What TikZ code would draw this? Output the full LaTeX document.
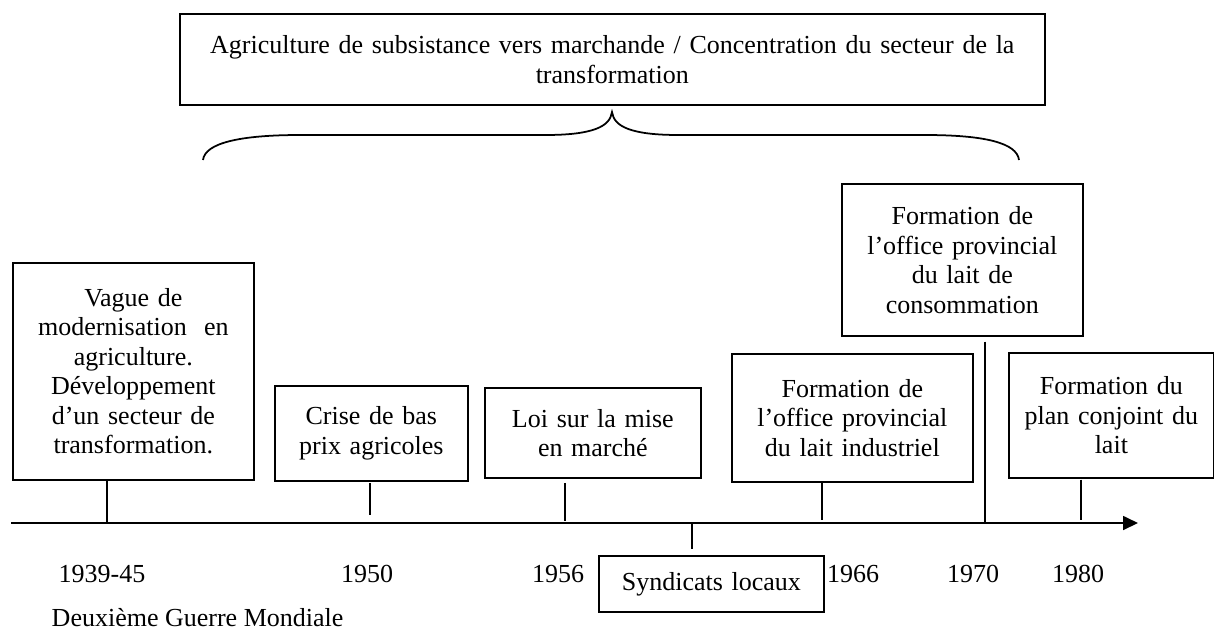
\documentclass[tikz,border=0pt]{standalone}
\usepackage{fontspec}
\setmainfont{Liberation Serif}
\usetikzlibrary{arrows.meta}
\tikzset{
    evt/.style={draw, line width=1pt, align=center, inner sep=0pt, anchor=north west},
    yr/.style={anchor=base},
    every node/.style={font=\fontsize{14.8}{16.8}\selectfont}
}
\begin{document}
\begin{tikzpicture}[x=0.02cm, y=-0.02cm, line width=1pt]
        \useasboundingbox (0,0) rectangle (1214,630);
        % period box and brace
        \node[evt, minimum width=17.3cm, minimum height=1.82cm, text width=17.1cm] (per) at (179,13) {Agriculture de subsistance vers marchande / Concentration du secteur de la\\transformation};
        \draw (203,160) .. controls (205,143) and (240,135) .. (300,135) -- (545,135) .. controls (592,135) and (610,127) .. (612,112)
              .. controls (614,127) and (632,135) .. (679,135) -- (925,135) .. controls (985,135) and (1017,143) .. (1019,160);
        % events
        \node[evt, minimum width=4.82cm, minimum height=4.34cm, text width=4.7cm] (vague) at (12,262) {Vague de\\modernisation\ \ en\\agriculture.\\Développement\\d’un secteur de\\transformation.};
        \node[evt, minimum width=3.86cm, minimum height=1.9cm, text width=3.76cm] (crise) at (274,385) {Crise de bas\\prix agricoles};
        \node[evt, minimum width=4.32cm, minimum height=1.8cm, text width=4.2cm] (loi) at (484,387) {Loi sur la mise\\en marché};
        \node[evt, minimum width=4.5cm, minimum height=1.12cm, text width=4.4cm] (synd) at (598,555) {Syndicats locaux};
        \node[evt, minimum width=4.82cm, minimum height=2.56cm, text width=4.7cm] (indus) at (731,353) {Formation de\\l’office provincial\\du lait industriel};
        \node[evt, minimum width=4.82cm, minimum height=3.04cm, text width=4.7cm] (conso) at (841,183) {Formation de\\l’office provincial\\du lait de\\consommation};
        \node[evt, minimum width=4.1cm, minimum height=2.5cm, text width=4cm] (plan) at (1008,352) {Formation du\\plan conjoint du\\lait};
        % time axis
        \coordinate (t0) at (11,523);
        \coordinate (t1) at (1138,523);
        \draw[-{Triangle[length=0.3cm, width=0.28cm]}] (t0) -- (t1);
        \coordinate (a1) at (107,523);
        \coordinate (a2) at (370,515);
        \coordinate (a3) at (565,521);
        \coordinate (a4) at (692,523);
        \coordinate (a5) at (822,520);
        \coordinate (a6) at (985,523);
        \coordinate (a7) at (1081,520);
        \draw (vague.south -| a1) -- (a1);
        \draw (crise.south -| a2) ++(0,1) -- (a2);
        \draw (loi.south -| a3) ++(0,4) -- (a3);
        \draw (a4) -- ++(0,26);
        \draw (indus.south -| a5) -- (a5);
        \draw (conso.south -| a6) ++(0,5) -- (a6);
        \draw (plan.south -| a7) ++(0,1) -- (a7);
        % years
        \node[yr] (y1) at (102,582) {1939-45};
        \node[yr] (y2) at (367,582) {1950};
        \node[yr] (y3) at (558,582) {1956};
        \node[yr] (y4) at (853,582) {1966};
        \node[yr] (y5) at (973,582) {1970};
        \node[yr] (y6) at (1078,582) {1980};
        \node[anchor=base west] (guerre) at (45,626) {Deuxième Guerre Mondiale};
    \end{tikzpicture}
\end{document}
